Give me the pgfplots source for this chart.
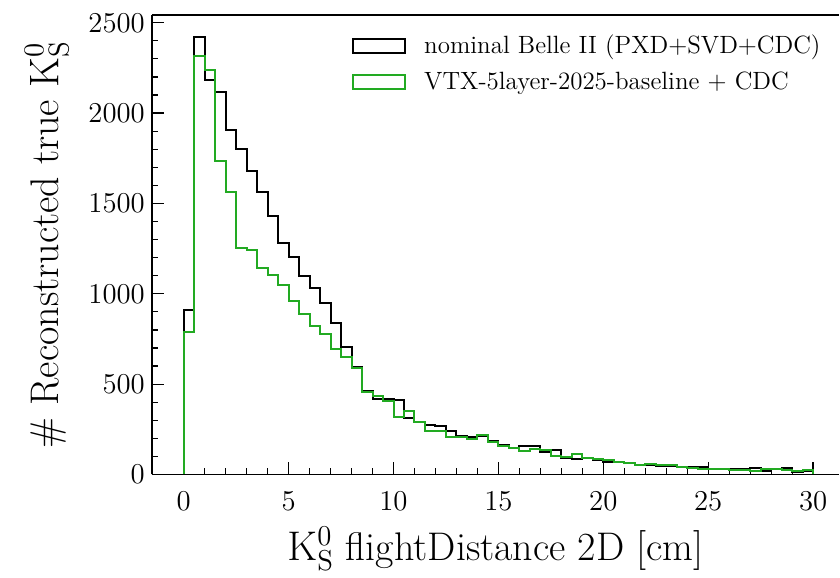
\documentclass[border=0pt]{standalone}
\usepackage{pgfplots}
\pgfplotsset{compat=1.18}
\definecolor{vtxgreen}{RGB}{34,170,34}

\begin{document}
\begin{tikzpicture}
\begin{axis}[
    name=main,
    scale only axis,
    width=344pt, height=230pt,
    xmin=-1.52, xmax=31.24,
    ymin=0, ymax=2543,
    axis lines=left,
    axis line style={-, line width=0.9pt},
    tick align=inside,
    xtick={0,5,...,30}, ytick={0,500,...,2500},
    minor x tick num=4, minor y tick num=4,
    major tick length=6pt, minor tick length=3pt,
    every tick/.style={black, line width=0.6pt},
    tick label style={font=\fontsize{14.5}{16}\selectfont},
    /pgf/number format/1000 sep={},
    xticklabel style={yshift=-5pt},
    label style={font=\fontsize{20}{24}\selectfont},
    xlabel={$\mathrm{K^0_S}$ flightDistance 2D [cm]},
    ylabel={\# Reconstructed true $\mathrm{K^0_S}$},
    ylabel shift=3pt,
    xlabel shift=1.5pt,
    scaled y ticks=false,
    clip=false,
    legend style={draw=none, fill=none, at={(0.988,0.975)}, anchor=north east,
        font=\fontsize{12.5}{15}\selectfont, row sep=3.5pt,
        /tikz/every odd column/.append style={column sep=7pt}},
    legend cell align=left,
    legend image code/.code={\draw[#1] (0pt,-3.5pt) rectangle (26pt,3.5pt);},
]
\addplot[const plot mark left, black, line width=1pt] coordinates {
(0,0) (0,910) (0.5,2420) (1.0,2184) (1.5,2118) (2.0,1908) (2.5,1804) (3.0,1679)
(3.5,1561) (4.0,1432) (4.5,1280) (5.0,1203) (5.5,1100) (6.0,1030) (6.5,948)
(7.0,836) (7.5,706) (8.0,596) (8.5,463) (9.0,419) (9.5,415) (10.0,412)
(10.5,310) (11.0,288) (11.5,273) (12.0,266) (12.5,238) (13.0,214) (13.5,210)
(14.0,214) (14.5,185) (15.0,162) (15.5,148) (16.0,155) (16.5,155) (17.0,125)
(17.5,137) (18.0,90) (18.5,85) (19.0,89) (19.5,81) (20.0,70) (20.5,70)
(21.0,63) (21.5,55) (22.0,52) (22.5,48) (23.0,48) (23.5,44) (24.0,41)
(24.5,44) (25.0,30) (25.5,30) (26.0,33) (26.5,33) (27.0,37) (27.5,22)
(28.0,33) (28.5,37) (29.0,15) (29.5,22) (30.0,22) (30.0,0)
};
\addlegendentry{nominal Belle II (PXD+SVD+CDC)}
\addplot[const plot mark left, vtxgreen, line width=1pt] coordinates {
(0,0) (0,790) (0.5,2314) (1.0,2240) (1.5,1734) (2.0,1565) (2.5,1255) (3.0,1240)
(3.5,1140) (4.0,1103) (4.5,1048) (5.0,959) (5.5,886) (6.0,823) (6.5,775)
(7.0,692) (7.5,649) (8.0,592) (8.5,458) (9.0,434) (9.5,404) (10.0,319)
(10.5,350) (11.0,288) (11.5,240) (12.0,240) (12.5,207) (13.0,207) (13.5,199)
(14.0,218) (14.5,177) (15.0,159) (15.5,144) (16.0,129) (16.5,140) (17.0,137)
(17.5,100) (18.0,98) (18.5,111) (19.0,92) (19.5,85) (20.0,81) (20.5,70)
(21.0,66) (21.5,52) (22.0,59) (22.5,55) (23.0,52) (23.5,41) (24.0,37)
(24.5,33) (25.0,33) (25.5,30) (26.0,26) (26.5,26) (27.0,22) (27.5,30)
(28.0,30) (28.5,26) (29.0,22) (29.5,26) (30.0,26) (30.0,0)
};
\addlegendentry{VTX-5layer-2025-baseline + CDC}
\draw[line width=0.9pt] (rel axis cs:0,1) -- (rel axis cs:1,1);
\end{axis}
\path ([xshift=-76pt,yshift=-49.5pt]main.south west);
\path ([yshift=7.5pt]main.north east);
\end{tikzpicture}
\end{document}
